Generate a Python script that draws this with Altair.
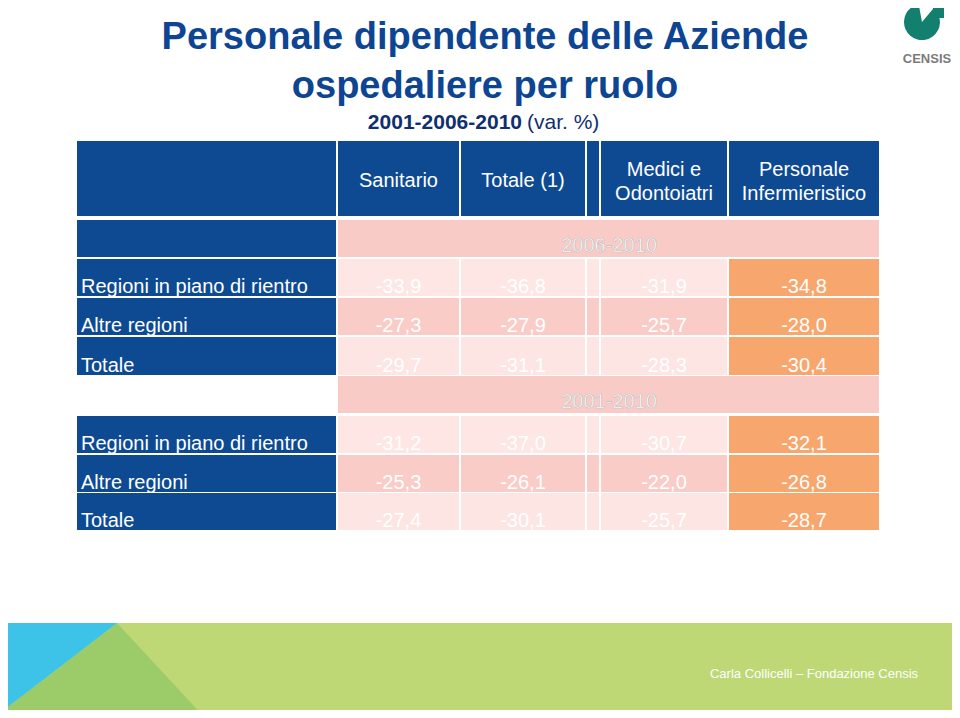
import altair as alt
import pandas as pd

# ---------------- data ----------------
title_lines = ["Personale dipendente delle Aziende", "ospedaliere per ruolo"]
subtitle_bold = "2001-2006-2010"
subtitle_rest = "(var. %)"
row_labels = ["Regioni in piano di rientro", "Altre regioni", "Totale"]
column_heads = [["Sanitario"], ["Totale (1)"], ["Medici e", "Odontoiatri"], ["Personale", "Infermieristico"]]
periods = ["2006-2010", "2001-2010"]

sanitario_0610 = [-33.9, -27.3, -29.7]
totale_0610 = [-36.8, -27.9, -31.1]
medici_0610 = [-31.9, -25.7, -28.3]
infermieri_0610 = [-34.8, -28.0, -30.4]

sanitario_0110 = [-31.2, -25.3, -27.4]
totale_0110 = [-37.0, -26.1, -30.1]
medici_0110 = [-30.7, -22.0, -25.7]
infermieri_0110 = [-32.1, -26.8, -28.7]

footer_text = "Carla Collicelli \u2013 Fondazione Censis"
logo_text = "CENSIS"

blocks = [
    [sanitario_0610, totale_0610, medici_0610, infermieri_0610],
    [sanitario_0110, totale_0110, medici_0110, infermieri_0110],
]

# ---------------- layout (page pixels) ----------------
LABEL_COL = (77, 336)
DATA_COLS = [(338, 459), (461, 585), (601, 727), (729, 879)]
GAP_COL = (587, 599)
HEADER_ROW = (141, 216)
PERIOD_ROWS = [(220, 257), (376, 413)]
DATA_ROWS = [[(259, 296), (298, 335), (337, 375)], [(416, 453), (455, 492), (493, 530)]]

BLUE = "#0E4A92"
PERIOD_PINK = "#F9CBC7"
ROW_FILLS = ["#FDE6E4", "#F9CCC8", "#FCE5E3"]
ORANGE = "#F7A76D"
FONT = "Liberation Sans"

W, H = 944, 702
XD = [8, 8 + W]
YD = [8, 8 + H]


def X(f):
    return alt.X(f, type="quantitative", scale=alt.Scale(domain=XD, nice=False, zero=False), axis=None)


def Y(f):
    return alt.Y(f, type="quantitative", scale=alt.Scale(domain=YD, nice=False, zero=False, reverse=True), axis=None)


def fmt(v):
    return f"{v:.1f}".replace(".", ",")


# ---------------- rects ----------------
rects = []
rects.append(dict(x=LABEL_COL[0], x2=LABEL_COL[1], y=HEADER_ROW[0], y2=HEADER_ROW[1], fill=BLUE))
for c in DATA_COLS + [GAP_COL]:
    rects.append(dict(x=c[0], x2=c[1], y=HEADER_ROW[0], y2=HEADER_ROW[1], fill=BLUE))
for b, pr in enumerate(PERIOD_ROWS):
    if b == 0:
        rects.append(dict(x=LABEL_COL[0], x2=LABEL_COL[1], y=pr[0], y2=pr[1], fill=BLUE))
    rects.append(dict(x=DATA_COLS[0][0], x2=DATA_COLS[-1][1], y=pr[0], y2=pr[1], fill=PERIOD_PINK))
    for r, (y0, y1) in enumerate(DATA_ROWS[b]):
        rects.append(dict(x=LABEL_COL[0], x2=LABEL_COL[1], y=y0, y2=y1, fill=BLUE))
        for ci, c in enumerate(DATA_COLS):
            rects.append(dict(x=c[0], x2=c[1], y=y0, y2=y1, fill=ORANGE if ci == 3 else ROW_FILLS[r]))
        rects.append(dict(x=GAP_COL[0], x2=GAP_COL[1], y=y0, y2=y1, fill=ROW_FILLS[r]))
# footer background
rects.append(dict(x=0, x2=960, y=623, y2=718, fill="#BDD874"))
rect_df = pd.DataFrame(rects)

# footer triangles
mid_green = pd.DataFrame(dict(x=[0, 117, 205], y=[713, 623, 718], y2=[718, 718, 718]))
blue_tri = pd.DataFrame(dict(x=[0, 117], y=[623, 623], y2=[713, 623]))

# ---------------- texts ----------------
header_txt = []
for ci, lines in enumerate(column_heads):
    cx = (DATA_COLS[ci][0] + DATA_COLS[ci][1]) / 2
    if len(lines) == 1:
        header_txt.append(dict(x=cx, y=187, text=lines[0]))
    else:
        header_txt.append(dict(x=cx, y=176, text=lines[0]))
        header_txt.append(dict(x=cx, y=200, text=lines[1]))
header_df = pd.DataFrame(header_txt)

label_txt, value_txt, period_txt = [], [], []
for b in range(2):
    pr = PERIOD_ROWS[b]
    period_txt.append(dict(x=609, y=pr[1] - 5, text=periods[b]))
    for r, (y0, y1) in enumerate(DATA_ROWS[b]):
        label_txt.append(dict(x=LABEL_COL[0] + 4, y=y1 - 3, text=row_labels[r]))
        for ci, c in enumerate(DATA_COLS):
            value_txt.append(dict(x=(c[0] + c[1]) / 2, y=y1 - 3, text=fmt(blocks[b][ci][r])))
label_df = pd.DataFrame(label_txt)
value_df = pd.DataFrame(value_txt)
period_df = pd.DataFrame(period_txt)

title_df = pd.DataFrame(dict(x=[485, 485], y=[49, 98], text=title_lines))
sub_b_df = pd.DataFrame(dict(x=[522], y=[129], text=[subtitle_bold]))
sub_r_df = pd.DataFrame(dict(x=[527], y=[129], text=[subtitle_rest]))
footer_df = pd.DataFrame(dict(x=[814], y=[678], text=[footer_text]))
logo_df = pd.DataFrame(dict(x=[927], y=[63], text=[logo_text]))
logo_arc_df = pd.DataFrame(dict(x=[922], y=[22]))
logo_stem_df = pd.DataFrame(dict(x=[933], x2=[944], y=[2], y2=[18]))


def text_layer(df, **kw):
    return alt.Chart(df).mark_text(baseline="alphabetic", font=FONT, **kw).encode(
        x=X("x"), y=Y("y"), text="text:N"
    )


layers = [
    alt.Chart(rect_df).mark_rect(clip=True).encode(
        x=X("x"), x2="x2", y=Y("y"), y2="y2", color=alt.Color("fill:N", scale=None)
    ),
    alt.Chart(mid_green).mark_area(clip=True, orient="vertical", color="#9CCB6A").encode(
        x=X("x"), y=Y("y"), y2="y2"
    ),
    alt.Chart(blue_tri).mark_area(clip=True, orient="vertical", color="#3DC2E8").encode(
        x=X("x"), y=Y("y"), y2="y2"
    ),
    alt.Chart(logo_arc_df).mark_arc(color="#13806F", outerRadius=18, innerRadius=0, theta=0.7, theta2=6.1).encode(
        x=X("x"), y=Y("y")
    ),
    alt.Chart(logo_stem_df).mark_rect(color="#13806F").encode(x=X("x"), x2="x2", y=Y("y"), y2="y2"),
    text_layer(logo_df, align="center", fontSize=13, fontWeight="bold", color="#7B7B7B"),
    text_layer(title_df, align="center", fontSize=38, fontWeight="bold", color="#0D4593"),
    text_layer(sub_b_df, align="right", fontSize=21, fontWeight="bold", color="#102F6E"),
    text_layer(sub_r_df, align="left", fontSize=21, color="#102F6E"),
    text_layer(header_df, align="center", fontSize=20, color="#FFFFFF"),
    text_layer(label_df, align="left", fontSize=20, color="#FFFFFF"),
    text_layer(value_df, align="center", fontSize=20, color="#FFFFFF"),
    text_layer(period_df, align="center", fontSize=20, color="#FFFFFF", stroke="#BDBDBD", strokeWidth=0.6),
    text_layer(footer_df, align="center", fontSize=13, color="#FFFFFF"),
]

chart = alt.layer(*layers).properties(
    width=W, height=H, padding=0, autosize=alt.AutoSizeParams(type="none")
).configure_view(stroke=None)

chart.save("out.html", embed_options={"renderer": "svg", "actions": False})
